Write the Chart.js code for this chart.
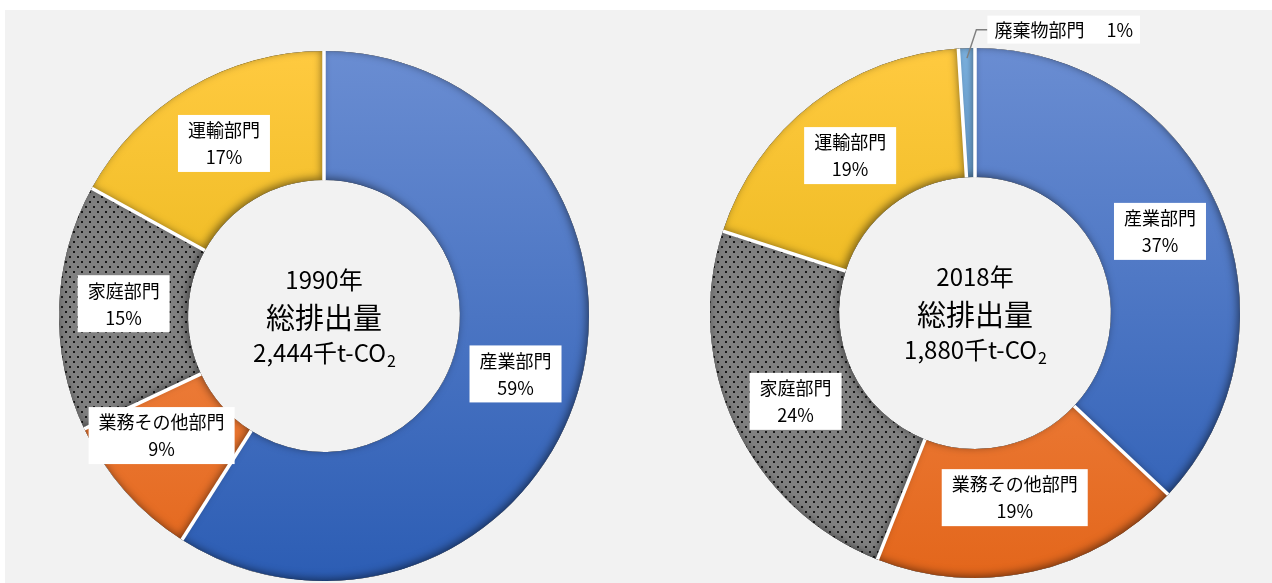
<!DOCTYPE html>
<html lang="ja">
<head>
<meta charset="utf-8">
<title>総排出量</title>
<script src="https://cdn.jsdelivr.net/npm/chart.js@4.4.0/dist/chart.umd.min.js"></script>
<style>
    html, body { margin: 0; padding: 0; background: #ffffff; }
    #wrap { position: relative; width: 1272px; height: 583px; overflow: hidden; }
    #fondo { position: absolute; left: 5px; top: 10px; right: 0; bottom: 0; background: #f2f2f2; }
    .caja { position: absolute; top: 0; width: 636px; height: 583px; }
    #caja1990 { left: 0; }
    #caja2018 { left: 636px; }
</style>
</head>
<body>
<div id="wrap">
    <div id="fondo"></div>
    <div class="caja" id="caja1990"><canvas id="chart1990" width="636" height="583"></canvas></div>
    <div class="caja" id="caja2018"><canvas id="chart2018" width="636" height="583"></canvas></div>
</div>
<script>
// datos (%)
const categories1990 = ["産業部門", "業務その他部門", "家庭部門", "運輸部門"];
const values1990 = [59, 9, 15, 17];
const categories2018 = ["産業部門", "業務その他部門", "家庭部門", "運輸部門", "廃棄物部門"];
const values2018 = [37, 19, 24, 19, 1];
const years = [1990, 2018];
const totals = [2444, 1880];
const totalUnit = "千t-CO";

const FONT = '"Noto Sans CJK JP", "Noto Sans", sans-serif';

// colores por sector: [arriba, abajo]
const sectorColors = {
    "産業部門": ["#6a8dd2", "#2c5db4"],
    "業務その他部門": ["#f99a62", "#e3661b"],
    "運輸部門": ["#ffca40", "#d9a900"],
    "廃棄物部門": ["#7db3e2", "#3f7fbf"],
};

function dotPattern() {
    const c = document.createElement("canvas");
    c.width = 8;
    c.height = 10;
    const g = c.getContext("2d");
    g.fillStyle = "#808080";
    g.fillRect(0, 0, 8, 10);
    g.fillStyle = "#1a1a1a";
    g.fillRect(1, 1, 2, 2);
    g.fillRect(5, 6, 2, 2);
    return g.createPattern(c, "repeat");
}
const pattern = dotPattern();

function sliceColor(context) {
    const name = context.chart.data.labels[context.dataIndex];
    if (name == "家庭部門") return pattern;
    const pair = sectorColors[name];
    const area = context.chart.chartArea;
    if (!area) return pair[0];
    const grad = context.chart.ctx.createLinearGradient(0, area.top, 0, area.bottom);
    grad.addColorStop(0, pair[0]);
    grad.addColorStop(1, pair[1]);
    return grad;
}

function slicePath(ctx, cx, cy, p) {
    ctx.moveTo(cx + p.outerRadius * Math.cos(p.startAngle), cy + p.outerRadius * Math.sin(p.startAngle));
    ctx.arc(cx, cy, p.outerRadius, p.startAngle, p.endAngle);
    ctx.arc(cx, cy, p.innerRadius, p.endAngle, p.startAngle, true);
    ctx.closePath();
}

const ringDeco = {
    id: "ringDeco",
    afterDatasetsDraw(chart, args, opts) {
        const ctx = chart.ctx;
        const arcs = chart.getDatasetMeta(0).data;
        const cx = arcs[0].x;
        const cy = arcs[0].y;
        const props = arcs.map((a) => a.getProps(["startAngle", "endAngle", "innerRadius", "outerRadius"], true));

        // sombra interior de cada sector
        props.forEach((p) => {
            ctx.save();
            ctx.beginPath();
            slicePath(ctx, cx, cy, p);
            ctx.clip();
            ctx.beginPath();
            ctx.rect(-2000, -2000, 5000, 5000);
            slicePath(ctx, cx, cy, p);
            ctx.shadowColor = "rgba(0,0,0,0.5)";
            ctx.shadowBlur = 9;
            ctx.shadowOffsetX = -2;
            ctx.shadowOffsetY = -2;
            ctx.fillStyle = "#000";
            ctx.fill("evenodd");
            ctx.restore();
        });

        // separadores blancos
        ctx.save();
        ctx.strokeStyle = "#ffffff";
        ctx.lineWidth = 3.5;
        props.forEach((p) => {
            const a = p.startAngle;
            ctx.beginPath();
            ctx.moveTo(cx + p.innerRadius * Math.cos(a), cy + p.innerRadius * Math.sin(a));
            ctx.lineTo(cx + p.outerRadius * Math.cos(a), cy + p.outerRadius * Math.sin(a));
            ctx.stroke();
        });
        ctx.restore();

        // etiquetas
        const labels = chart.data.labels;
        const vals = chart.data.datasets[0].data;
        ctx.save();
        ctx.font = "18px " + FONT;
        ctx.textAlign = "center";
        ctx.textBaseline = "middle";
        arcs.forEach((arc, i) => {
            const c = arc.tooltipPosition(true);
            const shift = (opts.shifts && opts.shifts[i]) || [0, 0];
            const x = c.x + shift[0];
            const y = c.y + shift[1];
            const outside = opts.outside === i;
            const lines = outside ? [labels[i] + "\u3000 " + vals[i] + "%"] : [labels[i], vals[i] + "%"];
            const w = Math.max(...lines.map((t) => ctx.measureText(t).width)) + (outside ? 14 : 20);
            const h = outside ? 28 : 57;

            if (outside) {
                const p = props[i];
                const mid = (p.startAngle + p.endAngle) / 2;
                const r = p.outerRadius - 10;
                ctx.strokeStyle = "#7f7f7f";
                ctx.lineWidth = 1.5;
                ctx.beginPath();
                ctx.moveTo(cx + r * Math.cos(mid), cy + r * Math.sin(mid));
                ctx.lineTo(x - w / 2 - 11, y);
                ctx.lineTo(x - w / 2, y);
                ctx.stroke();
            }

            ctx.fillStyle = "#ffffff";
            ctx.fillRect(x - w / 2, y - h / 2, w, h);
            ctx.fillStyle = "#000000";
            if (lines.length == 1) {
                ctx.fillText(lines[0], x, y + 1);
            } else {
                ctx.fillText(lines[0], x, y - 13);
                ctx.fillText(lines[1], x, y + 14);
            }
        });
        ctx.restore();

        // texto central
        ctx.save();
        ctx.fillStyle = "#000000";
        ctx.textBaseline = "middle";
        ctx.textAlign = "center";
        ctx.font = "24px " + FONT;
        ctx.fillText(opts.year + "年", cx, cy - 36);
        ctx.font = "29px " + FONT;
        ctx.fillText("総排出量", cx, cy + 2);
        const main = opts.total.toLocaleString("en-US") + totalUnit;
        ctx.font = "24px " + FONT;
        const mw = ctx.measureText(main).width;
        ctx.font = "16px " + FONT;
        const sw = ctx.measureText("2").width;
        const x0 = cx - (mw + sw) / 2;
        ctx.textAlign = "left";
        ctx.font = "24px " + FONT;
        ctx.fillText(main, x0, cy + 37);
        ctx.font = "16px " + FONT;
        ctx.fillText("2", x0 + mw + 1, cy + 45);
        ctx.restore();
    },
};

function creaDona(id, categorias, valores, year, total, padding, shifts, outside) {
    return new Chart(document.getElementById(id), {
        type: "doughnut",
        data: {
            labels: categorias,
            datasets: [
                {
                    data: valores,
                    backgroundColor: sliceColor,
                    borderWidth: 0,
                },
            ],
        },
        options: {
            responsive: false,
            animation: false,
            cutout: "51.3%",
            layout: { padding: padding },
            plugins: {
                legend: { display: false },
                tooltip: { enabled: false },
                ringDeco: { year: year, total: total, shifts: shifts, outside: outside },
            },
        },
        plugins: [ringDeco],
    });
}

creaDona("chart1990", categories1990, values1990, years[0], totals[0],
    { left: 59, right: 47, top: 51, bottom: 2 },
    [[-1, 2], [-12, -13], [0, -6], [2, 0]], -1);

creaDona("chart2018", categories2018, values2018, years[1], totals[1],
    { left: 74, right: 32, top: 48, bottom: 5 },
    [[1, -2], [-4, -11], [2, 3], [-2, 1], [95, -83]], 4);
</script>
</body>
</html>
